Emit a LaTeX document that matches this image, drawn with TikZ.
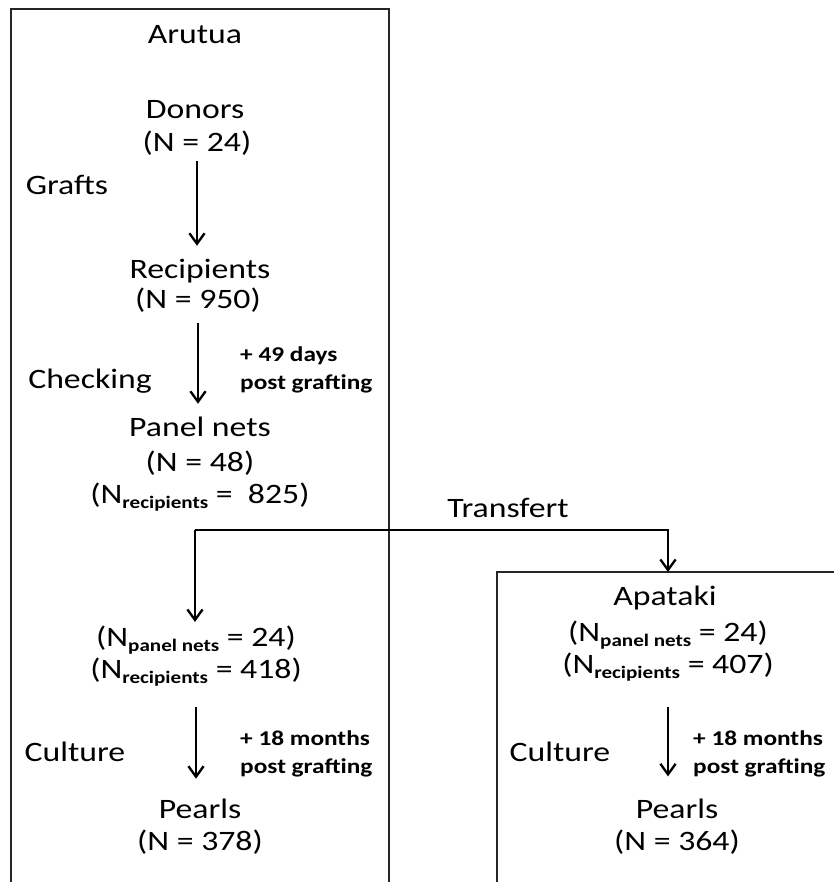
\documentclass[tikz,border=0pt]{standalone}
\usepackage{fontspec}
\setmainfont{Carlito}[FakeStretch=1.2]
\usetikzlibrary{arrows.meta,positioning}
\newcommand{\sub}[1]{\raisebox{-4pt}{\fontsize{15}{15}\selectfont\bfseries #1}}
\tikzset{
    %Define standard arrow tip
    >={Straight Barb[length=9pt,width=13pt,line width=2pt]},
    %Define style for texts
    site/.style={
           font=\fontsize{24}{28}\selectfont,
           text height=0.7em,
           text depth=0.2em,
           yshift=-5pt,
           inner sep=0pt},
    stage/.style={
           font=\fontsize{24}{28}\selectfont,
           inner sep=0pt},
    delay/.style={
           font=\bfseries\fontsize{18}{24}\selectfont,
           align=left,
           anchor=west,
           inner sep=0pt},
    % Define line styles
    box/.style={
           draw=black!85,
           line width=1.2pt},
    arr/.style={
           ->,
           line width=2.2pt}
}

\begin{document}
\begin{tikzpicture}[x=0.03cm,y=-0.03cm]
\useasboundingbox (0,0) rectangle (834,882);
% sites
\draw[box] (11,882) |- (389,9) -- (389,882);
\draw[box] (497,882) |- (834,572);
% Arutua
\node[site](arutua) at (195,35){Arutua};
\node[site](donors) at (195,110){Donors};
\node[site](donN) at (197,143){(N = 24)};
\node[stage](grafts) at (67,185){Grafts};
\node[site](recip) at (200,270){Recipients};
\node[site](recipN) at (198,300){(N = 950)};
\node[stage](check) at (90,381){Checking};
\node[delay](d49) at (240,370){+ 49 days\\post grafting};
\node[site](panel) at (200,428){Panel nets};
\node[site](panelN) at (200,463){(N = 48)};
\node[site](panelR) at (200,495){(N\sub{recipients} =~ 825)};
\node[stage](transf) at (508,508){Transfert};
\node[site](aruP) at (196,638){(N\sub{panel nets} = 24)};
\node[site](aruR) at (196,670){(N\sub{recipients} = 418)};
\node[stage](cultA) at (75,752){Culture};
\node[delay](d18a) at (240,754){+ 18 months\\post grafting};
\node[site](pearlA) at (200,810){Pearls};
\node[site](pearlAN) at (200,842){(N = 378)};
% Apataki
\node[site](apataki) at (665,597){Apataki};
\node[site](apaP) at (668,633){(N\sub{panel nets} = 24)};
\node[site](apaR) at (668,665){(N\sub{recipients} = 407)};
\node[stage](cultB) at (560,752){Culture};
\node[delay](d18b) at (693,754){+ 18 months\\post grafting};
\node[site](pearlB) at (677,810){Pearls};
\node[site](pearlBN) at (677,842){(N = 364)};
% arrows
\coordinate (split) at (195,530);
\coordinate (apatop) at (668,572);
\draw[arr, shorten <=6pt, shorten >=21pt] (donN.south) -- (donN.south |- recip.north);
\draw[arr, shorten <=10pt, shorten >=21pt] (recipN.south) -- (recipN.south |- panel.north);
\draw[arr, line width=2.4pt, shorten >=14pt] (split) -- (split |- aruP.north);
\draw[arr, line width=2.4pt] (split) -| (apatop);
\draw[arr, shorten <=22pt, shorten >=27pt] (aruR.south) -- (aruR.south |- pearlA.north);
\draw[arr, shorten <=26pt, shorten >=29pt] (apaR.south) -- (apaR.south |- pearlB.north);
\end{tikzpicture}
\end{document}
